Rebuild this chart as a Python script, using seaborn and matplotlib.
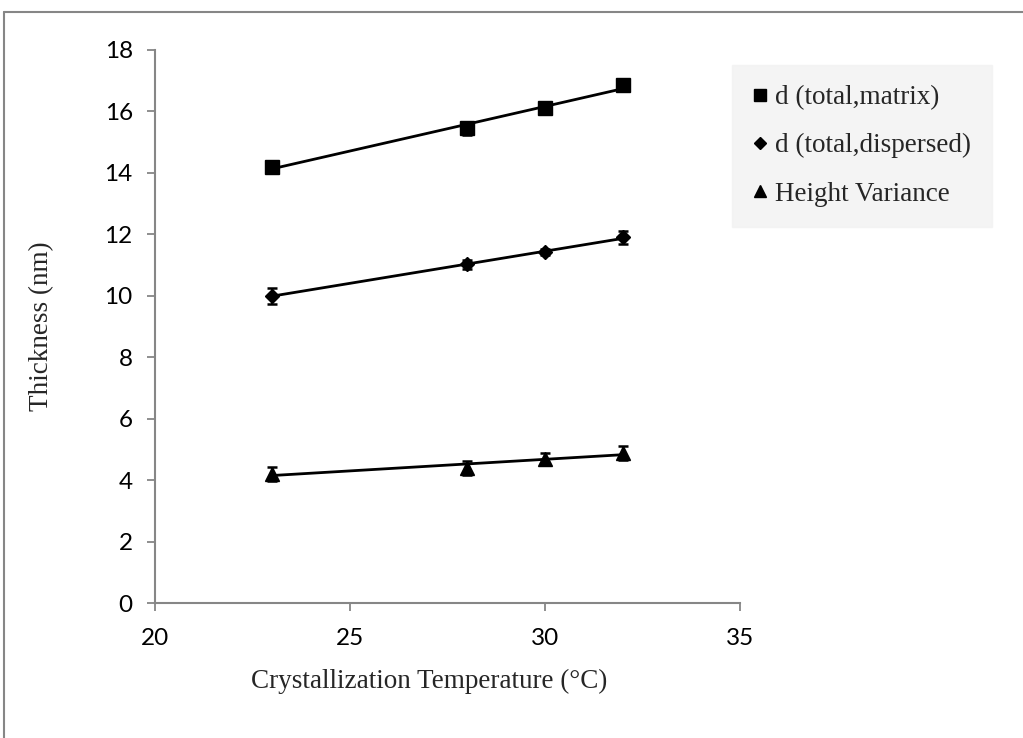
import numpy as np
import pandas as pd
import matplotlib
matplotlib.use("Agg")
import matplotlib.pyplot as plt
from matplotlib.lines import Line2D
import seaborn as sns

# ---- data ----
temperature = [23, 28, 30, 32]
series_names = ["d (total,matrix)", "d (total,dispersed)", "Height Variance"]
d_matrix = [14.2, 15.45, 16.12, 16.85]
d_matrix_err = [0.1, 0.22, 0.1, 0.1]
d_dispersed = [10.0, 11.02, 11.42, 11.9]
d_dispersed_err = [0.26, 0.15, 0.1, 0.2]
height_var = [4.2, 4.4, 4.7, 4.88]
height_var_err = [0.24, 0.22, 0.18, 0.24]
markers = ["s", "D", "^"]
x_ticks = [20, 25, 30, 35]
y_ticks = [0, 2, 4, 6, 8, 10, 12, 14, 16, 18]

values = [d_matrix, d_dispersed, height_var]
errors = [d_matrix_err, d_dispersed_err, height_var_err]

sns.set_style("white")
plt.rcParams["font.family"] = ["Lato", "DejaVu Sans"]

fig = plt.figure(figsize=(10.23, 7.38), dpi=100)
ax = fig.add_axes([155/1023, 1-603/738, (740-155)/1023, (603-50)/738])

msizes = [9.5, 7.5, 9.5]
for name, vals, errs, mk, ms in zip(series_names, values, errors, markers, msizes):
    df = pd.DataFrame({"T": temperature, "v": vals})
    sns.regplot(data=df, x="T", y="v", scatter=False, ci=None, truncate=True,
                color="black", line_kws={"linewidth": 2.0}, ax=ax)
    ax.errorbar(temperature, vals, yerr=errs, fmt=mk, color="black", markersize=ms,
                capsize=3.8, elinewidth=1.5, capthick=1.8, linestyle="none", zorder=3)

ax.set_xlim(20, 35)
ax.set_ylim(0, 18)
ax.set_xticks(x_ticks)
ax.set_yticks(y_ticks)
ax.set_xticklabels([str(t) for t in x_ticks])
ax.set_yticklabels([str(t) for t in y_ticks])

gray = "#868686"
for s in ["top", "right"]:
    ax.spines[s].set_visible(False)
for s in ["left", "bottom"]:
    ax.spines[s].set_color(gray)
    ax.spines[s].set_linewidth(1.5)
ax.tick_params(axis="both", which="major", direction="out", length=6, width=1.3,
               color=gray, labelsize=17.5, labelcolor="black", left=True, bottom=True)
ax.tick_params(axis="x", pad=12)
ax.tick_params(axis="y", pad=10)

ax.set_xlabel("Crystallization Temperature (°C)", fontsize=19.5,
              family=["Liberation Serif"])
ax.xaxis.set_label_coords((429 - 155) / 585, -(688 - 603) / 553)
ax.xaxis.label.set_va("baseline")
ax.set_ylabel("Thickness (nm)", fontsize=19.5, family=["Liberation Serif"], labelpad=36)

handles = [Line2D([], [], marker=mk, color="black", linestyle="none", markersize=s)
           for mk, s in zip(markers, [8.5, 6.5, 8.5])]
leg = fig.legend(handles, series_names, loc="upper left",
                 bbox_to_anchor=(732/1023, 1-65/738), frameon=True, fancybox=False,
                 prop={"family": "Liberation Serif", "size": 19.5},
                 handlelength=0.55, handletextpad=0.3, labelspacing=0.85,
                 borderpad=0.75, borderaxespad=0)
leg.get_frame().set_facecolor("#f2f2f2")
leg.get_frame().set_edgecolor("#f2f2f2")

# outer chart border (left and top edges visible)
fig.add_artist(Line2D([4/1023, 4/1023], [0, 1-12/738], transform=fig.transFigure,
                      color=gray, linewidth=1.5))
fig.add_artist(Line2D([4/1023, 1], [1-12/738, 1-12/738], transform=fig.transFigure,
                      color=gray, linewidth=1.5))

fig.savefig("out.png", dpi=100)
